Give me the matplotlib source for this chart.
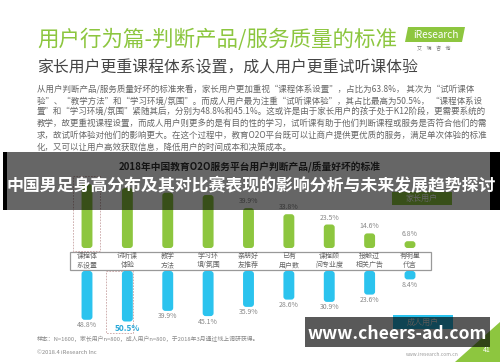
"""
iResearch slide: criteria users use to judge O2O education products,
with the two watermark bands on top.
"""

import matplotlib
matplotlib.use('Agg')
import matplotlib.pyplot as plt
from matplotlib.patches import Rectangle, FancyBboxPatch, Polygon

FONT = ['Noto Sans CJK SC', 'DejaVu Sans']
plt.rcParams['font.family'] = FONT

W, H = 500, 362

# Data
categories = ['课程体\n系设置', '试听课\n体验', '教学\n方法', '学习环\n境/氛围', '亲朋好\n友推荐',
              '已有\n用户数', '课程顾\n问专业度', '接触过\n相关广告', '有明星\n代言']
parents = [63.8, 59.9, 55.3, 53.0, 39.9, 33.8, 23.5, 14.6, 6.8]
adults = [48.8, 50.5, 39.9, 45.1, 35.9, 28.6, 30.9, 23.6, 8.4]

title = '用户行为篇-判断产品/服务质量的标准'
subtitle = '家长用户更重课程体系设置，成人用户更重试听课体验'
body = [
    '从用户判断产品/服务质量好坏的标准来看，家长用户更加重视“课程体系设置”，占比为63.8%， 其次为“试听课体',
    '验”、“教学方法”和“学习环境/氛围”。而成人用户最为注重“试听课体验”，其占比最高为50.5%， “课程体系设',
    '置”和“学习环境/氛围”紧随其后，分别为48.8%和45.1%。这或许是由于家长用户的孩子处于K12阶段，更需要系统的',
    '教学，故更重视课程设置，而成人用户则更多的是有目的性的学习，试听课有助于他们判断课程或服务是否符合他们的需',
    '求，故试听体验对他们的影响更大。在这个过程中，教育O2O平台既可以让商户提供更优质的服务，满足单次体验的标准',
    '化，又可以让用户高效获取信息，降低用户的时间成本和决策成本。',
]
chart_title = '2018年中国教育O2O服务平台用户判断产品/质量好坏的标准'
note = '样本：N=1600，家长用户n=800，成人用户n=800，于2018年3月通过线上调研获得。'
banner = '中国男足身高分布及其对比赛表现的影响分析与未来发展趋势探讨'
watermark = 'www.cheers-ad.com'

GREEN = '#8dc63f'
BLUE = '#2bc3ee'


def fy(y):
    return 1 - y / H


def rounded_bars(ax, values, color, r_px, xstep_px):
    for i, v in enumerate(values):
        bw = 0.27
        p = FancyBboxPatch((i - bw / 2, 0), bw, v,
                           boxstyle='round,pad=0,rounding_size=%f' % (r_px / xstep_px),
                           mutation_aspect=xstep_px, fc=color, ec='none')
        ax.add_patch(p)


fig = plt.figure(figsize=(W / 100, H / 100), dpi=100)
fig.patch.set_facecolor('white')

# background layer in pixel coords
bg = fig.add_axes([0, 0, 1, 1], zorder=0)
bg.set_xlim(0, W)
bg.set_ylim(H, 0)
bg.axis('off')

bg.text(37, 40, title, fontsize=15.5, color='#8cc63f', va='center')
bg.text(37, 68, subtitle, fontsize=11.4, color='#444444', va='center')
for k, line in enumerate(body):
    bg.text(37, 89 + k * 11.6, line, fontsize=6.1, color='#666666', va='center')

# logo
bg.add_patch(Polygon([(405, 42), (462, 42), (465, 27), (408, 27)], fc='#8dc63f', ec='none'))
bg.text(436, 35, 'iResearch', fontsize=7.2, color='white', ha='center', va='center')
bg.text(434, 49, '艾    瑞    咨    询', fontsize=3.6, color='#777777', ha='center', va='center')

bg.text(250, 167, chart_title, fontsize=7, color='#333333', ha='center', va='center',
        fontweight='bold')

# legend boxes
bg.add_patch(Rectangle((392, 192), 60, 13, fc=GREEN, ec='none'))
bg.text(422, 198.5, '家长用户', fontsize=5.8, color='white', ha='center', va='center')
bg.add_patch(Rectangle((393, 315), 60, 14, fc=BLUE, ec='none'))
bg.text(423, 322, '成人用户', fontsize=5.8, color='white', ha='center', va='center')

# category box and labels
xstep = (410 - 87) / 8
left_px = 87 - xstep / 2
bg.add_patch(Rectangle((70, 252), 361, 17.5, fc='none', ec='#999999', lw=0.9))
for i, c in enumerate(categories):
    bg.text(87 + i * xstep, 260.5, c, fontsize=5, color='#666666', ha='center', va='center',
            linespacing=1.15)

# dashed highlight boxes
bg.add_patch(Rectangle((73, 176), 27, 75, fc='none', ec='#c8a4a4', lw=0.6, ls=(0, (2, 1.5))))
bg.add_patch(Rectangle((106, 270.5), 27, 62, fc='none', ec='#c8a4a4', lw=0.6, ls=(0, (2, 1.5))))

bg.text(37, 339, note, fontsize=4.2, color='#888888', va='center')
bg.text(37, 353, '©2018.4 iResearch Inc', fontsize=4.2, color='#888888', va='center')

# bottom-right page decoration
bg.add_patch(Polygon([(455, H), (W, H), (W, 322)], fc='#8dc63f', ec='none'))
bg.text(432, 355, 'www.iresearch.com.cn', fontsize=3.5, color='#999999', ha='center', va='center')
bg.text(487, 350, '41', fontsize=5, color='white', ha='center', va='center')

# parents bars (upwards); the first four labels sit under the banner text
ax_g = fig.add_axes([left_px / W, fy(248), 9 * xstep / W, 70 / H], zorder=1)
ax_g.set_xlim(-0.5, 8.5)
ax_g.set_ylim(0, 70)
ax_g.axis('off')
rounded_bars(ax_g, parents, GREEN, 3, xstep)
for i, v in enumerate(parents):
    if i < 4:
        continue
    ax_g.text(i, v + 7, '%.1f%%' % v, fontsize=5, color='#888888', ha='center', va='center')

# adult bars (downwards)
ax_b = fig.add_axes([left_px / W, fy(331), 9 * xstep / W, 60 / H], zorder=1)
ax_b.set_xlim(-0.5, 8.5)
ax_b.set_ylim(60, 0)
ax_b.axis('off')
rounded_bars(ax_b, adults, BLUE, 3, xstep)
for i, v in enumerate(adults):
    if i == 1:
        ax_b.text(i, v + 7, '%.1f%%' % v, fontsize=6, color='#29a8d8', ha='center',
                  va='center', fontweight='bold')
    else:
        ax_b.text(i, v + 5.5, '%.1f%%' % v, fontsize=5, color='#888888', ha='center',
                  va='center')

# watermark layer
fg = fig.add_axes([0, 0, 1, 1], zorder=2)
fg.set_xlim(0, W)
fg.set_ylim(H, 0)
fg.axis('off')
fg.add_patch(Rectangle((3, 152), W - 3, 58, fc='black', alpha=0.6, ec='none'))
fg.add_patch(Rectangle((3, 152), 4, 58, fc='black', ec='none'))
fg.add_patch(Rectangle((490, 152), 10, 58, fc='black', ec='none'))
fg.text(251, 186, banner, fontsize=12.2, color='white', ha='center', va='center',
        fontweight='bold')
fg.add_patch(Rectangle((305, 317), 185, 30, fc='black', alpha=0.65, ec='none'))
fg.text(397, 334, watermark, fontsize=12.6, color='white', ha='center', va='center',
        fontweight='bold')

fig.savefig('out.png', dpi=100)
